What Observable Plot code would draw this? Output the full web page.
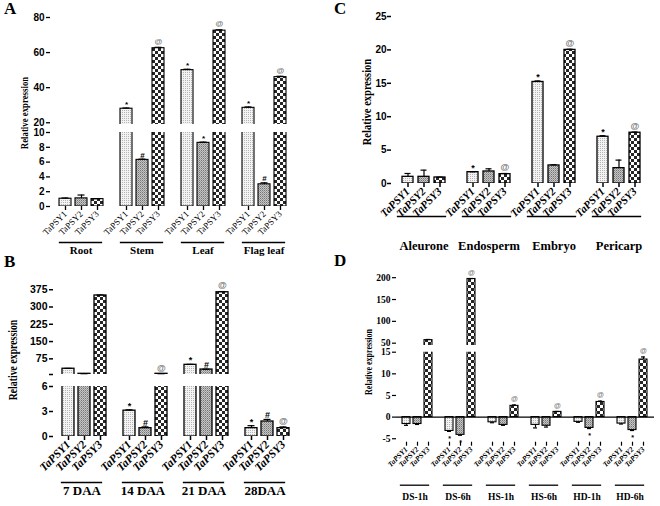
<!DOCTYPE html>
<html><head><meta charset="utf-8">
<script src="https://cdn.jsdelivr.net/npm/d3@7"></script>
<script src="https://cdn.jsdelivr.net/npm/@observablehq/plot@0.6"></script>
<style>
html,body{margin:0;padding:0;background:#fff;}
#fig{position:relative;width:660px;height:506px;overflow:hidden;background:#fff;}
.letter{position:absolute;font-family:"Liberation Serif",serif;font-weight:bold;font-size:17px;color:#000;line-height:1;}
.ylab{position:absolute;font-family:"Liberation Serif",serif;font-weight:bold;white-space:nowrap;transform:translate(-50%,-50%) rotate(-90deg) scale(1,1.25);line-height:1;color:#000;}
</style></head><body>
<svg width="0" height="0" style="position:absolute">
<defs>
<pattern id="pat1" patternUnits="userSpaceOnUse" width="2" height="2"><rect width="2" height="2" fill="#f3f3f3"/><rect width="1" height="1" fill="#b5b5b5"/></pattern>
<pattern id="pat2" patternUnits="userSpaceOnUse" width="2" height="2"><rect width="2" height="2" fill="#c6c6c6"/><rect width="1" height="1" fill="#747474"/><rect x="1" y="1" width="1" height="1" fill="#9a9a9a"/></pattern>
<pattern id="pat3" patternUnits="userSpaceOnUse" width="6" height="6"><rect width="6" height="6" fill="#fff"/><rect width="3" height="3" fill="#262626"/><rect x="3" y="3" width="3" height="3" fill="#262626"/></pattern>
</defs></svg>
<div id="fig"></div>
<script>
// ---------- data ----------
const genes = ["TaPSY1", "TaPSY2", "TaPSY3"];
const patterns = ["url(#pat1)", "url(#pat2)", "url(#pat3)"];

// Panel A: tissues
const groupsA = ["Root", "Stem", "Leaf", "Flag leaf"];
const valuesA = [[1.05, 1.1, 1.0], [28, 6.3, 62.5], [50, 8.6, 72.5], [28.5, 3.0, 46]];
const errorsA = [[0.1, 0.45, 0.05], [0.4, 0.1, 0.5], [0.5, 0.1, 0.5], [0.5, 0.2, 0.5]];
const signifA = [["", "", ""], ["*", "#", "@"], ["*", "*", "@"], ["*", "#", "@"]];
const ticksAtop = [20, 40, 60, 80];
const ticksAbot = [0, 2, 4, 6, 8, 10];

// Panel B: days after anthesis
const groupsB = ["7 DAA", "14 DAA", "21 DAA", "28DAA"];
const valuesB = [[32, 10, 350], [3.1, 1.0, 10], [49, 28.5, 364], [1.0, 1.8, 1.0]];
const errorsB = [[1.5, 0.5, 2], [0.1, 0.15, 0.5], [2, 1.5, 3], [0.3, 0.25, 0.15]];
const signifB = [["", "", ""], ["*", "#", "@"], ["*", "#", "@"], ["*", "#", "@"]];
const ticksBtop = [7, 75, 150, 225, 300, 375];
const ticksBbot = [0, 3, 6];

// Panel C: grain tissues
const groupsC = ["Aleurone", "Endosperm", "Embryo", "Pericarp"];
const valuesC = [[1.0, 1.0, 0.9], [1.7, 1.8, 1.4], [15.2, 2.7, 20.0], [7.0, 2.3, 7.6]];
const errorsC = [[0.5, 1.0, 0.05], [0.05, 0.4, 0.1], [0.15, 0.1, 0.1], [0.15, 1.2, 0.1]];
const signifC = [["", "", ""], ["*", "", "@"], ["*", "", "@"], ["*", "", "@"]];
const ticksC = [0, 5, 10, 15, 20, 25];

// Panel D: stresses
const groupsD = ["DS-1h", "DS-6h", "HS-1h", "HS-6h", "HD-1h", "HD-6h"];
const valuesD = [[-1.6, -1.6, 57], [-3.2, -4.1, 197], [-1.2, -1.8, 2.6], [-1.8, -2.0, 1.2], [-1.1, -2.5, 3.5], [-1.5, -3.0, 13.3]];
const errorsD = [[0.3, 0.1, 1.5], [0.1, 0.1, 1], [0.1, 0.1, 0.2], [0.7, 0.3, 0.1], [0.1, 0.15, 0.2], [0.1, 0.1, 0.6]];
const signifD = [["", "", ""], ["*", "*", "@"], ["", "", "@"], ["", "", "@"], ["", "*", "@"], ["", "*", "@"]];
const ticksDtop = [50, 100, 150, 200];
const ticksDbot = [-5, 0, 5, 10, 15];

// ---------- helpers ----------
const SERIF = "Liberation Serif, Times New Roman, serif";
const SANS = "Liberation Sans, Arial, sans-serif";
const W = 660, H = 506;
const fig = document.getElementById("fig");

function rowsOf(groups, values, errors, signif) {
  return groups.flatMap((g, i) => genes.map((gene, j) => {
    const v = values[i][j], e = errors[i][j];
    return {group: g, gene, value: v, top: v + (v < 0 ? -e : e), mark: signif[i][j]};
  }));
}

function segment(p, s, bottom) {
  const F = (p.xR - p.xL) / p.groups.length;
  const pi = 1 - p.barW / p.step;
  const po = (F / p.step - 3 + pi) / 2;
  const [lo, hi] = s.domain;
  const vis = p.rows.filter(d => d.top >= lo && d.top <= hi);
  const txt = {fx: "group", x: "gene", y: "top", text: "mark", fontFamily: SANS, fontWeight: "bold"};
  const marks = [
    Plot.barY(p.rows, {fx: "group", x: "gene", y: "value", fill: "gene", stroke: "#000", strokeWidth: p.barStroke, clip: true}),
    Plot.ruleX(vis, {fx: "group", x: "gene", y1: "value", y2: "top", stroke: "#000", strokeWidth: 1.2}),
    Plot.tickY(vis, {fx: "group", x: "gene", y: "top", stroke: "#000", strokeWidth: 1.2, insetLeft: p.capInset, insetRight: p.capInset}),
    Plot.text(vis.filter(d => d.mark && d.mark !== "@" && d.value >= 0), {...txt, dy: -4, fontSize: p.markSize}),
    Plot.text(vis.filter(d => d.mark && d.mark !== "@" && d.value < 0), {...txt, dy: 7, fontSize: p.markSize}),
    Plot.text(vis.filter(d => d.mark === "@"), {...txt, dy: -6, fontSize: p.markSize, fill: "#777"}),
    Plot.axisY({ticks: s.ticks, tickFormat: d => (s.hide && s.hide.includes(d)) ? "" : String(d), tickSize: 4, tickPadding: p.yTickPad ?? 2,
      label: null, line: true, fontSize: p.yTickSize, fontFamily: p.yTickFont, fontWeight: "bold", strokeWidth: p.axisW})
  ];
  if (p.zero && bottom) marks.push(Plot.ruleY([0], {stroke: "#000", strokeWidth: 1.2}));
  if (bottom) {
    marks.push(
      Plot.axisX({tickRotate: -45, tickSize: 4, tickPadding: 2, label: null, line: true,
        fontSize: p.xFontSize, fontFamily: SERIF, fontStyle: p.italic ? "italic" : "normal",
        fontWeight: p.xFontWeight, strokeWidth: p.axisW}),
      Plot.text(p.groups, {fx: d => d, text: d => d, frameAnchor: "bottom", dy: p.labelDy, dx: p.labelDx || 0,
        fontSize: p.groupFontSize, fontFamily: SERIF, fontWeight: "bold"}),
      Plot.frame({anchor: "bottom", dy: p.lineDy, insetLeft: p.lineInL, insetRight: p.lineInR, strokeWidth: 1.3})
    );
  }
  const svg = Plot.plot({
    width: W, height: H,
    marginLeft: p.xL, marginRight: W - p.xR, marginTop: s.yTop, marginBottom: H - s.yBot,
    style: "position:absolute;left:0;top:0;background:transparent;overflow:visible;color:#000;",
    fx: {domain: p.groups, padding: 0, axis: null},
    x: {domain: genes, paddingInner: pi, paddingOuter: po, axis: bottom ? undefined : null},
    y: {domain: s.domain},
    color: {domain: genes, range: patterns},
    marks
  });
  fig.appendChild(svg);
}

function panel(p) {
  p.segments.forEach((s, i) => segment(p, s, i === p.segments.length - 1));
  const L = document.createElement("div");
  L.className = "letter"; L.textContent = p.letter;
  L.style.left = p.letterPos[0] + "px"; L.style.top = p.letterPos[1] + "px";
  fig.appendChild(L);
  const Y = document.createElement("div");
  Y.className = "ylab"; Y.textContent = "Relative expression";
  Y.style.left = p.ylabPos[0] + "px"; Y.style.top = p.ylabPos[1] + "px"; Y.style.fontSize = p.ylabSize + "px";
  fig.appendChild(Y);
}

panel({
  letter: "A", letterPos: [4, 0], ylabPos: [25, 113], ylabSize: 8.8,
  groups: groupsA, rows: rowsOf(groupsA, valuesA, errorsA, signifA),
  xL: 49, xR: 295, step: 16.5, barW: 12, capInset: 2.5, barStroke: 1.1, axisW: 1.3,
  yTickSize: 10, yTickFont: SANS, markSize: 8,
  italic: false, xFontSize: 9, xFontWeight: "normal", groupFontSize: 11,
  lineDy: 36, labelDy: 47, lineInL: 9, lineInR: 10,
  segments: [
    {domain: [19, 80], yTop: 17, yBot: 124, ticks: ticksAtop},
    {domain: [0, 10], yTop: 132, yBot: 206, ticks: ticksAbot}
  ]
});

panel({
  letter: "C", letterPos: [334, 0], ylabPos: [368, 102], ylabSize: 10.5,
  groups: groupsC, rows: rowsOf(groupsC, valuesC, errorsC, signifC),
  xL: 390, xR: 652, step: 16.7, barW: 12, capInset: 2.5, barStroke: 1.3, axisW: 1.5,
  yTickSize: 10, yTickPad: 1, yTickFont: SANS, markSize: 9,
  italic: true, xFontSize: 11, xFontWeight: "bold", groupFontSize: 12.5,
  lineDy: 33, labelDy: 66, lineInL: 6, lineInR: 11,
  segments: [
    {domain: [0, 25], yTop: 16, yBot: 183, ticks: ticksC}
  ]
});

panel({
  letter: "B", letterPos: [4, 253], ylabPos: [13, 360], ylabSize: 9.8,
  groups: groupsB, rows: rowsOf(groupsB, valuesB, errorsB, signifB),
  xL: 52, xR: 298, step: 16.5, barW: 12, capInset: 2.5, barStroke: 1.3, axisW: 1.5,
  yTickSize: 10.5, yTickFont: SANS, markSize: 9,
  italic: true, xFontSize: 11.5, xFontWeight: "bold", groupFontSize: 13,
  lineDy: 46, labelDy: 58, labelDx: -2, lineInL: 8, lineInR: 13,
  segments: [
    {domain: [7, 402], yTop: 283, yBot: 374, ticks: ticksBtop, hide: [7]},
    {domain: [0, 6], yTop: 386, yBot: 436, ticks: ticksBbot}
  ]
});

panel({
  letter: "D", letterPos: [334, 252], ylabPos: [369, 362], ylabSize: 8,
  groups: groupsD, rows: rowsOf(groupsD, valuesD, errorsD, signifD),
  xL: 394, xR: 655, step: 12, barW: 9, capInset: 2, barStroke: 1.1, axisW: 1.2,
  yTickSize: 9.5, yTickFont: SERIF, markSize: 7, zero: true,
  italic: true, xFontSize: 7.5, xFontWeight: "bold", groupFontSize: 9.5,
  lineDy: 43, labelDy: 58, labelDx: -3, lineInL: 4, lineInR: 11,
  segments: [
    {domain: [44.7, 205], yTop: 275, yBot: 345, ticks: ticksDtop},
    {domain: [-5.8, 15], yTop: 351.7, yBot: 441.7, ticks: ticksDbot}
  ]
});
</script>
</body></html>
